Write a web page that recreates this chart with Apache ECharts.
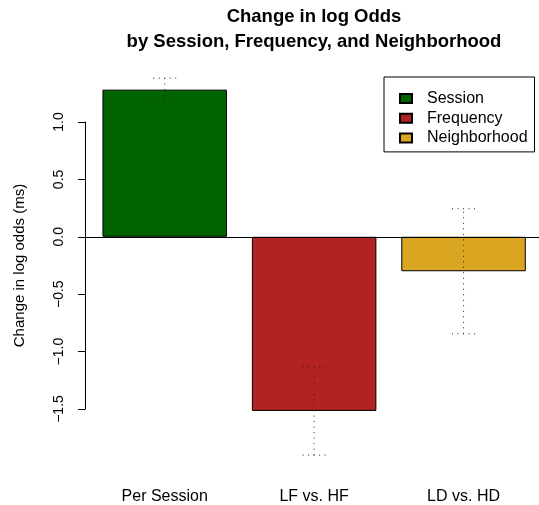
<!DOCTYPE html>
<html>
<head>
<meta charset="utf-8">
<script src="https://cdn.jsdelivr.net/npm/echarts@6/dist/echarts.min.js"></script>
<style>
html,body{margin:0;padding:0;background:#fff;}
#chart{width:539px;height:505px;}
</style>
</head>
<body>
<div id="chart"></div>
<script>
// ---- data ----
var categories = ['Per Session', 'LF vs. HF', 'LD vs. HD'];
var seriesNames = ['Session', 'Frequency', 'Neighborhood'];
var barPositions = [0.7, 1.9, 3.1];
var values = [1.282, -1.517, -0.300];
var errLower = [1.182, -1.902, -0.845];
var errUpper = [1.382, -1.134, 0.244];
var yTickValues = [-1.5, -1.0, -0.5, 0.0, 0.5, 1.0];
var yTickLabels = ['\u22121.5', '\u22121.0', '\u22120.5', '0.0', '0.5', '1.0'];
var colors = ['#006400', '#B22222', '#DAA520'];

var FONT = 'Liberation Sans, Arial, Helvetica, sans-serif';

var chart = echarts.init(document.getElementById('chart'), null, {renderer: 'canvas'});

var series = seriesNames.map(function (name, i) {
  var s = {
    name: name,
    type: 'bar',
    data: [[barPositions[i], values[i]]],
    barWidth: 124.5,
    barGap: '-100%',
    clip: false,
    itemStyle: {color: colors[i], borderColor: '#000', borderWidth: 1},
    emphasis: {disabled: true},
    z: 2
  };
  if (i === 0) {
    s.markLine = {
      silent: true,
      symbol: 'none',
      label: {show: false},
      lineStyle: {color: '#000', width: 1, type: 'solid'},
      data: [{yAxis: 0}],
      z: 3
    };
  }
  return s;
});

series.push({
  type: 'custom',
  name: 'err',
  clip: false,
  z: 5,
  data: barPositions.map(function (x, i) { return [x, errLower[i], errUpper[i]]; }),
  renderItem: function (params, api) {
    var lo = api.coord([api.value(0), api.value(1)]);
    var hi = api.coord([api.value(0), api.value(2)]);
    var hw = 11.5;
    var st = {stroke: '#222', lineWidth: 1, lineDash: [1, 4.5]};
    return {
      type: 'group',
      children: [
        {type: 'line', shape: {x1: lo[0], y1: lo[1], x2: hi[0], y2: hi[1]}, style: st},
        {type: 'line', shape: {x1: lo[0] - hw, y1: lo[1], x2: lo[0] + hw, y2: lo[1]}, style: st},
        {type: 'line', shape: {x1: hi[0] - hw, y1: hi[1], x2: hi[0] + hw, y2: hi[1]}, style: st}
      ]
    };
  }
});

var option = {
  backgroundColor: '#fff',
  animation: false,
  textStyle: {fontFamily: FONT},
  title: {
    text: 'Change in log Odds\nby Session, Frequency, and Neighborhood',
    left: 314,
    top: 4,
    padding: 0,
    textAlign: 'center',
    textStyle: {fontFamily: FONT, fontSize: 18.5, fontWeight: 'bold', color: '#000', lineHeight: 25}
  },
  legend: {
    data: seriesNames,
    orient: 'vertical',
    left: 384,
    top: 77,
    padding: [13.5, 7, 6, 15],
    itemWidth: 12,
    itemHeight: 9,
    itemGap: 3.7,
    borderColor: '#000',
    borderWidth: 1,
    icon: 'rect',
    selectedMode: false,
    textStyle: {fontFamily: FONT, fontSize: 16, color: '#000', padding: [0, 0, 0, 10]}
  },
  grid: {left: 85, right: 0, top: 122, bottom: 96, containLabel: false},
  xAxis: {
    type: 'value',
    min: 0.0598,
    max: 3.706,
    axisLine: {show: false},
    axisTick: {show: false},
    splitLine: {show: false},
    axisLabel: {
      customValues: barPositions,
      margin: 80,
      fontFamily: FONT,
      fontSize: 16,
      color: '#000',
      formatter: function (v) {
        for (var i = 0; i < barPositions.length; i++) {
          if (Math.abs(v - barPositions[i]) < 1e-6) return categories[i];
        }
        return '';
      }
    }
  },
  yAxis: {
    type: 'value',
    min: -1.5,
    max: 1.0,
    interval: 0.5,
    name: 'Change in log odds (ms)',
    nameLocation: 'middle',
    nameGap: 58,
    nameRotate: 90,
    nameTextStyle: {fontFamily: FONT, fontSize: 15, color: '#000'},
    axisLine: {show: true, lineStyle: {color: '#000', width: 1}},
    axisTick: {show: true, length: 7, lineStyle: {color: '#000'}},
    splitLine: {show: false},
    axisLabel: {
      rotate: 90,
      margin: 19,
      fontFamily: FONT,
      fontSize: 14,
      color: '#000',
      formatter: function (v) {
        for (var i = 0; i < yTickValues.length; i++) {
          if (Math.abs(v - yTickValues[i]) < 1e-6) return yTickLabels[i];
        }
        return '';
      }
    }
  },
  series: series
};

chart.setOption(option);
</script>
</body>
</html>
